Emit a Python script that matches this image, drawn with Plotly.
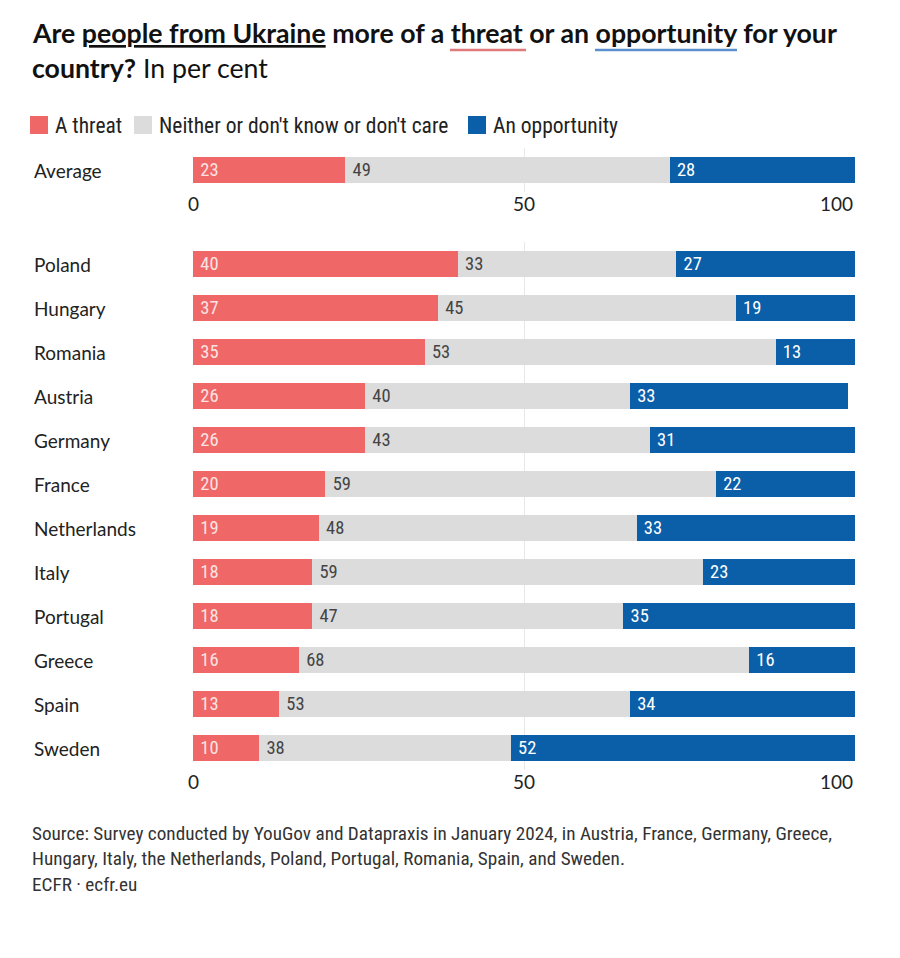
import plotly.graph_objects as go

countries = ["Poland", "Hungary", "Romania", "Austria", "Germany", "France",
             "Netherlands", "Italy", "Portugal", "Greece", "Spain", "Sweden"]
threat = [40, 37, 35, 26, 26, 20, 19, 18, 18, 16, 13, 10]
neither = [33, 45, 53, 40, 43, 59, 48, 59, 47, 68, 53, 38]
opportunity = [27, 19, 13, 33, 31, 22, 33, 23, 35, 16, 34, 52]

avg_label = ["Average"]
avg_threat = [23]
avg_neither = [49]
avg_opportunity = [28]

tick_values = [0, 50, 100]
tick_labels = ["0", "50", "100"]

series_names = ["A threat", "Neither or don't know or don't care", "An opportunity"]
colors = ["#EF6767", "#DCDCDC", "#0B5EA8"]
text_colors = ["#FBE3E3", "#444444", "#FFFFFF"]

OFF = 8  # page body margin
W, H = 892, 950
L = 185
PW = 662
R = W - L - PW
TOP_S, BOT_S = 148, 770          # screen px of plot area top / bottom
T = TOP_S - OFF
B = H - (BOT_S - OFF)
PH = BOT_S - TOP_S

def py(px):
    return 1 - (px - TOP_S) / PH

def pxx(px):
    return (px - OFF - L) / PW

NUM_FONT = "Liberation Sans Narrow, Roboto Condensed, Arial Narrow, sans-serif"
LBL_FONT = "Lato, Inter, sans-serif"

fig = go.Figure()

for vals, avals, name, c, tc in zip([threat, neither, opportunity],
                                    [avg_threat, avg_neither, avg_opportunity],
                                    series_names, colors, text_colors):
    fig.add_trace(go.Bar(
        y=avg_label, x=avals, orientation="h", name=name,
        marker=dict(color=c, line=dict(width=0)),
        text=[f" {v}" for v in avals], textposition="inside",
        insidetextanchor="start", textangle=0,
        textfont=dict(color=tc, size=18.5, family=NUM_FONT),
        xaxis="x", yaxis="y", showlegend=False, hoverinfo="skip"))
    fig.add_trace(go.Bar(
        y=countries, x=vals, orientation="h", name=name,
        marker=dict(color=c, line=dict(width=0)),
        text=[f" {v}" for v in vals], textposition="inside",
        insidetextanchor="start", textangle=0,
        textfont=dict(color=tc, size=18.5, family=NUM_FONT),
        xaxis="x2", yaxis="y2", showlegend=False, hoverinfo="skip"))

axis_common = dict(range=[0, 100], tickvals=tick_values, showline=False,
                   zeroline=False, showgrid=True, gridcolor="#E8E8E8",
                   showticklabels=False, ticks="", fixedrange=True)

fig.update_layout(
    width=W, height=H,
    margin=dict(l=L, r=R, t=T, b=B, autoexpand=False),
    paper_bgcolor="white", plot_bgcolor="white",
    barmode="stack", bargap=0.4,
    uniformtext=dict(minsize=18, mode="show"),
    xaxis=dict(domain=[0, 1], anchor="y", **axis_common),
    yaxis=dict(domain=[py(192), 1], anchor="x", showticklabels=False,
               showgrid=False, zeroline=False, fixedrange=True),
    xaxis2=dict(domain=[0, 1], anchor="y2", **axis_common),
    yaxis2=dict(domain=[0, py(242)], anchor="x2", showticklabels=False,
                showgrid=False, zeroline=False, autorange="reversed",
                categoryorder="array", categoryarray=countries, fixedrange=True),
    showlegend=False,
)

annotations = []
annotations.append(dict(
    xref="paper", yref="paper", x=pxx(30), y=py(33), xanchor="left", yanchor="middle",
    text="<b>Are <u>people from Ukraine</u> more of a threat or an opportunity for your</b>",
    showarrow=False, font=dict(size=26.7, color="#111111", family=LBL_FONT)))
annotations.append(dict(
    xref="paper", yref="paper", x=pxx(30), y=py(68), xanchor="left", yanchor="middle",
    text="<b>country?</b> In per cent",
    showarrow=False, font=dict(size=26.7, color="#111111", family=LBL_FONT)))

# legend (manual)
shapes = []
legend_sq = [30, 134, 468]
for name, c, x0 in zip(series_names, colors, legend_sq):
    shapes.append(dict(type="rect", xref="paper", yref="paper",
                       x0=pxx(x0), x1=pxx(x0 + 18), y0=py(134), y1=py(116),
                       fillcolor=c, line=dict(width=0)))
    annotations.append(dict(
        xref="paper", yref="paper", x=pxx(x0 + 23), y=py(125), xanchor="left",
        yanchor="middle", text=name, showarrow=False,
        font=dict(size=21.5, color="#222222", family=NUM_FONT)))

# category labels
annotations.append(dict(
    xref="paper", yref="y", x=pxx(32), y=avg_label[0], xanchor="left", yanchor="middle",
    text=avg_label[0], showarrow=False, font=dict(size=19, color="#222222", family=LBL_FONT)))
for c in countries:
    annotations.append(dict(
        xref="paper", yref="y2", x=pxx(32), y=c, xanchor="left", yanchor="middle",
        text=c, showarrow=False, font=dict(size=19, color="#222222", family=LBL_FONT)))

# x tick labels (last one right-aligned as in the original)
for xr, yr in [("x", "y"), ("x2", "y2")]:
    for v, t in zip(tick_values, tick_labels):
        annotations.append(dict(
            xref=xr, yref=f"{yr} domain", x=v, y=0, yshift=2,
            xanchor="right" if v == tick_values[-1] else "center", yanchor="top",
            text=t, showarrow=False,
            font=dict(size=19, color="#222222", family=LBL_FONT)))

source_lines = [
    "Source: Survey conducted by YouGov and Datapraxis in January 2024, in Austria, France, Germany, Greece,",
    "Hungary, Italy, the Netherlands, Poland, Portugal, Romania, Spain, and Sweden.",
    "ECFR · ecfr.eu",
]
for line, ypx in zip(source_lines, [833, 858, 884]):
    annotations.append(dict(
        xref="paper", yref="paper", x=pxx(30), y=py(ypx), xanchor="left", yanchor="middle",
        text=line, showarrow=False, font=dict(size=19.2, color="#333333", family=NUM_FONT)))

shapes += [
    dict(type="line", xref="paper", yref="paper", x0=pxx(450), x1=pxx(526),
         y0=py(50), y1=py(50), line=dict(color="#E07A7A", width=2.5)),
    dict(type="line", xref="paper", yref="paper", x0=pxx(595), x1=pxx(737),
         y0=py(50), y1=py(50), line=dict(color="#5B8FD0", width=2.5)),
]

fig.update_layout(annotations=annotations, shapes=shapes)

fig.write_html("out.html")
